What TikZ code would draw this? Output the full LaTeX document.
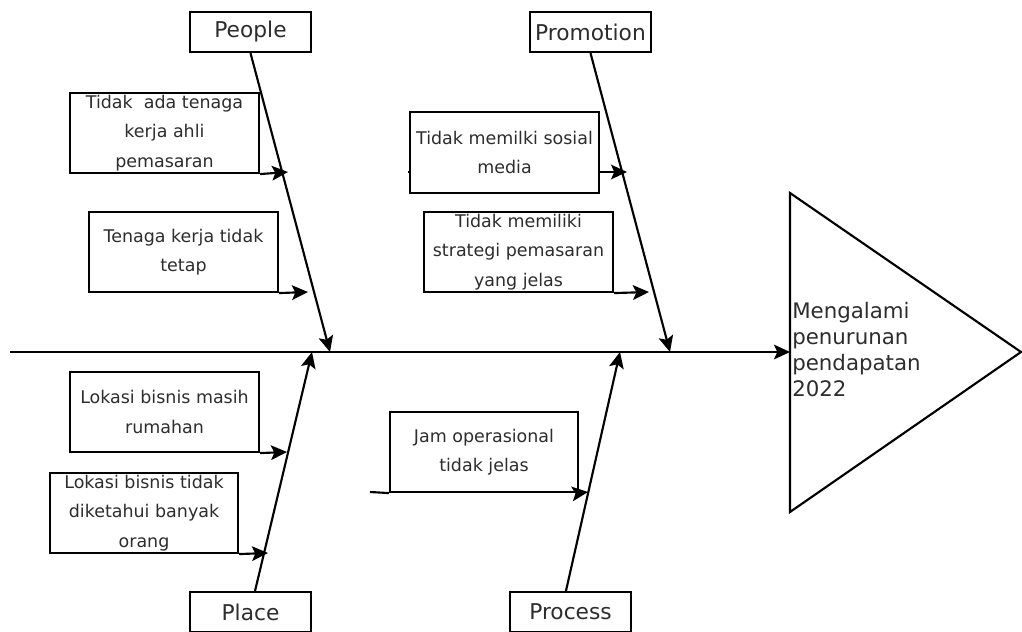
\documentclass[tikz,border=0pt]{standalone}
\usepackage{fontspec}
\setmainfont{DejaVu Sans}
\usetikzlibrary{arrows.meta}
\definecolor{txt}{RGB}{45,45,45}
\begin{document}
\begin{tikzpicture}[x=0.75pt,y=-0.75pt,
  ln/.style={line width=1.6pt},
  arr/.style={line width=1.6pt,-{Stealth[length=12pt,width=11pt,inset=2.5pt]}},
  cause/.style={draw,line width=1.6pt,fill=white,inner sep=0pt,minimum width=141.75pt,minimum height=60pt,align=center,text=txt,font=\fontsize{13.1}{22}\selectfont},
  head/.style={draw,line width=1.6pt,fill=white,inner sep=0pt,minimum width=90.75pt,minimum height=30pt,text=txt,font=\fontsize{16.3}{19}\selectfont}]
\useasboundingbox (0,0) rectangle (1022,632);

% heads
\node[head] (people) at (250.5,32) {People};
\node[head] (promo) at (590.5,32) {Promotion};
\node[head] (place) at (250.5,612) {Place};
\node[head] (process) at (570.5,612) {Process};

% spine junctions
\coordinate (start) at (10,352);
\coordinate (eff) at (790,352);
\coordinate (j1) at (330,352);
\coordinate (j2) at (312,352);
\coordinate (j3) at (670,352);
\coordinate (j4) at (620,352);

% effect
\draw[ln] (790,193) -- (1021,352) -- (790,512) -- cycle;
\node[anchor=west,align=left,inner sep=0pt,text=txt,font=\fontsize{16}{19.5}\selectfont] (effect) at (792,350) {Mengalami\\penurunan\\pendapatan\\2022};

% spine and bones
\draw[arr] (start) -- (eff);
\draw[arr] (people.south) -- (j1);
\draw[arr] (promo.south) -- (j3);
\draw[arr] ([xshift=3.4pt]place.north) -- (j2);
\draw[arr] ([xshift=-3.4pt]process.north) -- (j4);

% causes
\node[cause] (b1) at (164.5,133) {Tidak~ ada tenaga\\kerja ahli\\pemasaran};
\node[cause] (b2) at (183.5,252) {Tenaga kerja tidak\\tetap};
\node[cause] (b3) at (164.5,412) {Lokasi bisnis masih\\rumahan};
\node[cause,minimum width=141pt] (b4) at (144,513) {Lokasi bisnis tidak\\diketahui banyak\\orang};
\node[cause,minimum height=60.75pt] (b5) at (504.5,152.5) {Tidak memilki sosial\\media};
\node[cause] (b6) at (518.5,252) {Tidak memiliki\\strategi pemasaran\\yang jelas};
\node[cause,minimum width=141pt] (b7) at (484,452) {Jam operasional\\tidak jelas};

\coordinate (c1) at (288,172);
\coordinate (c2) at (308,292);
\coordinate (c3) at (287,452);
\coordinate (c4) at (268,553);
\coordinate (s5) at (408,172);
\coordinate (c5) at (627,172);
\coordinate (c6) at (649,292);
\coordinate (s7) at (370,492);
\coordinate (c7) at (588,492);

\draw[arr] (b1.south east) -- (c1);
\draw[arr] (b2.south east) -- (c2);
\draw[arr] (b3.south east) -- (c3);
\draw[arr] (b4.south east) -- (c4);
\draw[ln] (s5) -- (s5 -| b5.west);
\draw[arr] (s5 -| b5.east) -- (c5);
\draw[arr] (b6.south east) -- (c6);
\draw[ln] (s7) -- (b7.south west);
\draw[arr] (b7.south east) -- (c7);
\end{tikzpicture}
\end{document}
